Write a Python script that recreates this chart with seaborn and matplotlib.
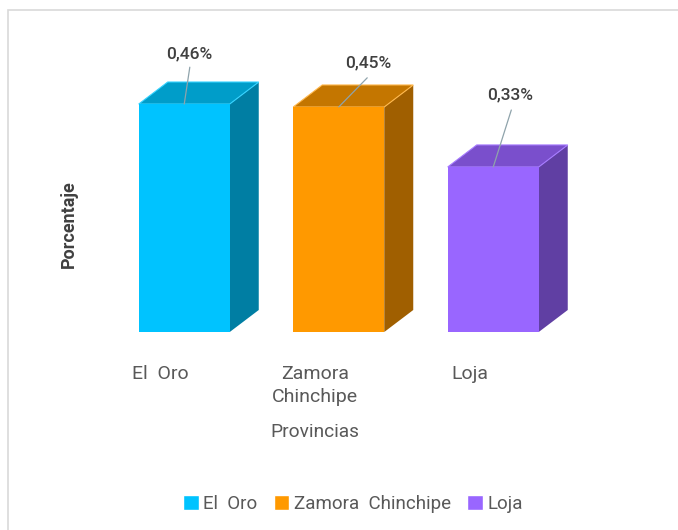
import matplotlib
matplotlib.use("Agg")
import matplotlib.pyplot as plt
from matplotlib import font_manager as fm
from matplotlib.patches import Polygon, Rectangle
import pandas as pd
import seaborn as sns

provinces = ["El  Oro", "Zamora  Chinchipe", "Loja"]
tick_labels = ["El  Oro", "Zamora\nChinchipe", "Loja"]
values = [0.46, 0.454, 0.333]
value_labels = ["0,46%", "0,45%", "0,33%"]
front_colors = ["#00C3FF", "#FF9900", "#9966FF"]
top_colors = ["#009DC9", "#C47600", "#7A4FCC"]
side_colors = ["#007EA3", "#A05F00", "#603FA3"]
edge_colors = ["#35D3FF", "#FFB84D", "#A67BFF"]
label_offsets = [(3.3, 36), (21.5, 32), (12.4, 52)]
line_offsets = [(4, 26.5), (20.5, 21), (13, 41)]

W, H = 678, 530
sns.set_theme(style="white")
avail = {f.name for f in fm.fontManager.ttflist}
fam = "Liberation Sans Narrow" if "Liberation Sans Narrow" in avail else "Roboto"
plt.rcParams["font.family"] = [fam, "DejaVu Sans"]

fig = plt.figure(figsize=(W / 100, H / 100), dpi=100, facecolor="white")
fig.add_artist(Rectangle((8 / W, -0.01), 1, 1 - 10 / H + 0.01, transform=fig.transFigure,
                         fill=False, ec="#D9D9D9", lw=1.2))
ax = fig.add_axes([107 / W, (H - 332) / H, 463.5 / W, 272.6 / H])
df = pd.DataFrame({"Provincia": provinces, "Porcentaje": values})
sns.barplot(data=df, x="Provincia", y="Porcentaje", hue="Provincia", hue_order=provinces,
            palette=front_colors, width=0.589, dodge=False, legend=True, ax=ax, saturation=1)
ax.set_xlim(-0.5, 2.5)
ax.set_ylim(0, 0.55)

DX, DY = 29 / 154.5, 22 / 495.6
for i, cont in enumerate(ax.containers):
    bar = cont.patches[0]
    x0, w, h = bar.get_x(), bar.get_width(), bar.get_height()
    x1 = x0 + w
    bar.set_zorder(3)
    bar.set_linewidth(0)
    ax.add_patch(Polygon([(x1, 0), (x1 + DX, DY), (x1 + DX, h + DY), (x1, h)], closed=True,
                         fc=side_colors[i], ec="none", clip_on=False, zorder=2))
    ax.add_patch(Polygon([(x0, h), (x0 + DX, h + DY), (x1 + DX, h + DY), (x1, h)], closed=True,
                         fc=top_colors[i], ec=edge_colors[i], lw=0.8, clip_on=False, zorder=2))
    ax.annotate("", xy=(x0 + w / 2, h), xytext=line_offsets[i], textcoords="offset points",
                arrowprops=dict(arrowstyle="-", color="#8FA3AB", lw=0.9, shrinkA=0, shrinkB=0),
                zorder=4, annotation_clip=False)
    ax.annotate(value_labels[i], xy=(x0 + w / 2, h), xytext=label_offsets[i],
                textcoords="offset points", ha="center", va="center", fontsize=12.5,
                color="#404040", fontweight="medium", annotation_clip=False, zorder=5)

sns.despine(ax=ax, left=True, bottom=True, top=True, right=True)
ax.set_yticks([])
tick_shift = 23.5 / 154.5
ax.set_xticks([i - tick_shift for i in range(len(tick_labels))])
ax.set_xticklabels(tick_labels, fontsize=14, color="#595959", linespacing=1.4)
ax.tick_params(axis="x", length=0, pad=23.5)
ax.set_xlabel("Provincias", fontsize=13.8, color="#595959")
ax.xaxis.set_label_coords(208 / 463.5, -91 / 272.6)
ax.set_ylabel("Porcentaje", fontsize=13, color="#404040", fontweight="bold")
ax.yaxis.set_label_coords(-29 / 463.5, 108 / 272.6)

handles, labels = ax.get_legend_handles_labels()
ax.legend_.remove()
fig.legend(handles, labels, loc="center", bbox_to_anchor=(353 / W, (H - 504) / H), ncol=3,
           frameon=False, fontsize=13.5, labelcolor="#595959", handlelength=0.85, handleheight=0.85,
           handletextpad=0.25, columnspacing=0.85, borderpad=0)
fig.savefig("out.png", dpi=100)
